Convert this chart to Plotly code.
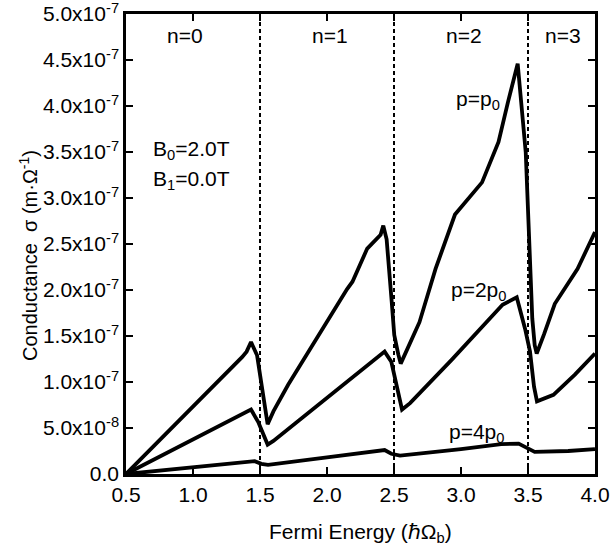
import plotly.graph_objects as go

# Fermi energy (units of hbar*Omega_b) and conductance (units of 1e-7 m*Ohm^-1)
x_p1 = [0.5, 1.0, 1.366, 1.40, 1.433, 1.478, 1.515, 1.557, 1.60, 1.71, 2.15, 2.19, 2.30, 2.36, 2.40, 2.42,
        2.445, 2.483, 2.502, 2.532, 2.55, 2.60, 2.69, 2.81, 2.955, 3.157, 3.28, 3.35, 3.423,
        3.483, 3.51, 3.532, 3.55, 3.565, 3.62, 3.70, 3.87, 4.0]
y_p1 = [0.0, 0.73, 1.27, 1.33, 1.435, 1.29, 0.92, 0.54, 0.68, 0.97, 2.01, 2.09, 2.45, 2.54, 2.60, 2.70,
        2.55, 1.87, 1.51, 1.30, 1.20, 1.36, 1.65, 2.23, 2.82, 3.17, 3.61, 4.04, 4.46,
        3.50, 2.41, 1.69, 1.40, 1.31, 1.52, 1.85, 2.23, 2.63]

x_p2 = [0.5, 1.0, 1.38, 1.433, 1.487, 1.53, 1.557, 1.60, 1.96, 2.34, 2.43, 2.48, 2.507, 2.535, 2.56,
        2.62, 2.93, 3.31, 3.416, 3.478, 3.515, 3.545, 3.567, 3.69, 3.85, 4.0]
y_p2 = [0.0, 0.37, 0.65, 0.70, 0.565, 0.40, 0.32, 0.36, 0.78, 1.22, 1.33, 1.22, 1.04, 0.82, 0.70,
        0.77, 1.24, 1.84, 1.92, 1.58, 1.33, 0.95, 0.79, 0.86, 1.08, 1.31]

x_p4 = [0.5, 1.0, 1.40, 1.46, 1.51, 1.56, 2.0, 2.38, 2.43, 2.48, 2.545, 3.0, 3.30, 3.43, 3.49, 3.55, 3.8, 4.0]
y_p4 = [0.0, 0.07, 0.13, 0.14, 0.11, 0.10, 0.18, 0.25, 0.26, 0.22, 0.20, 0.27, 0.325, 0.33, 0.28, 0.24, 0.25, 0.27]

landau_x = [1.5, 2.5, 3.5]
landau_labels = ["n=0", "n=1", "n=2", "n=3"]
landau_label_x = [0.94, 2.02, 3.02, 3.76]

y_tickvals = [0.0, 0.5, 1.0, 1.5, 2.0, 2.5, 3.0, 3.5, 4.0, 4.5, 5.0]
y_ticktext = ["0.0", "5.0x10<sup>-8</sup>", "1.0x10<sup>-7</sup>", "1.5x10<sup>-7</sup>",
              "2.0x10<sup>-7</sup>", "2.5x10<sup>-7</sup>", "3.0x10<sup>-7</sup>",
              "3.5x10<sup>-7</sup>", "4.0x10<sup>-7</sup>", "4.5x10<sup>-7</sup>",
              "5.0x10<sup>-7</sup>"]
x_tickvals = [0.5, 1.0, 1.5, 2.0, 2.5, 3.0, 3.5, 4.0]
x_ticktext = ["0.5", "1.0", "1.5", "2.0", "2.5", "3.0", "3.5", "4.0"]

FONT = "Arial, Liberation Sans, Helvetica, sans-serif"
FS = 21

fig = go.Figure()
for xs, ys in [(x_p1, y_p1), (x_p2, y_p2), (x_p4, y_p4)]:
    fig.add_trace(go.Scatter(x=xs, y=ys, mode="lines",
                             line=dict(color="black", width=3.8),
                             showlegend=False, hoverinfo="skip"))

for lx in landau_x:
    fig.add_shape(type="line", xref="x", yref="paper", x0=lx, x1=lx, y0=0, y1=1,
                  line=dict(color="black", width=2, dash="4px,3px"))

for lab, lx in zip(landau_labels, landau_label_x):
    fig.add_annotation(x=lx, y=4.77, xref="x", yref="y", text=lab, showarrow=False,
                       font=dict(size=FS, color="black", family=FONT))

fig.add_annotation(x=0.69, y=3.52, xref="x", yref="y", text="B<sub>0</sub>=2.0T", showarrow=False,
                   xanchor="left", font=dict(size=FS, color="black", family=FONT))
fig.add_annotation(x=0.69, y=3.20, xref="x", yref="y", text="B<sub>1</sub>=0.0T", showarrow=False,
                   xanchor="left", font=dict(size=FS, color="black", family=FONT))

fig.add_annotation(x=3.127, y=4.06, xref="x", yref="y", text="p=p<sub>0</sub>", showarrow=False,
                   xanchor="center", font=dict(size=FS, color="black", family=FONT))
fig.add_annotation(x=3.13, y=1.99, xref="x", yref="y", text="p=2p<sub>0</sub>", showarrow=False,
                   xanchor="center", font=dict(size=FS, color="black", family=FONT))
fig.add_annotation(x=3.115, y=0.45, xref="x", yref="y", text="p=4p<sub>0</sub>", showarrow=False,
                   xanchor="center", font=dict(size=FS, color="black", family=FONT))

fig.add_annotation(x=-0.208, y=0.475, xref="paper", yref="paper", textangle=-90,
                   text="Conductance  σ (m·Ω<sup>-1</sup>)", showarrow=False,
                   xanchor="center", yanchor="middle",
                   font=dict(size=20, color="black", family=FONT))
fig.add_annotation(x=0.5, y=-0.128, xref="paper", yref="paper",
                   text="Fermi Energy (ℏΩ<sub>b</sub>)", showarrow=False,
                   xanchor="center", yanchor="middle",
                   font=dict(size=FS, color="black", family=FONT))

axis_common = dict(showgrid=False, zeroline=False, showline=True, linecolor="black", linewidth=2.5,
                   mirror="ticks", ticks="inside", ticklen=7, tickwidth=2, tickcolor="black",
                   automargin=False, ticklabeloverflow="allow",
                   tickfont=dict(size=FS, color="black", family=FONT))
fig.update_xaxes(range=[0.5, 4.0], tickmode="array", tickvals=x_tickvals, ticktext=x_ticktext, **axis_common)
fig.update_yaxes(range=[0.0, 5.0], tickmode="array", tickvals=y_tickvals, ticktext=y_ticktext, **axis_common)

fig.update_layout(width=611, height=550, margin=dict(l=126, r=16, t=14, b=76),
                  plot_bgcolor="white", paper_bgcolor="white",
                  font=dict(family=FONT, color="black"))

fig.write_html("out.html", config={"displayModeBar": False},
               post_script="document.body.style.margin='0';document.body.style.overflow='hidden';")
